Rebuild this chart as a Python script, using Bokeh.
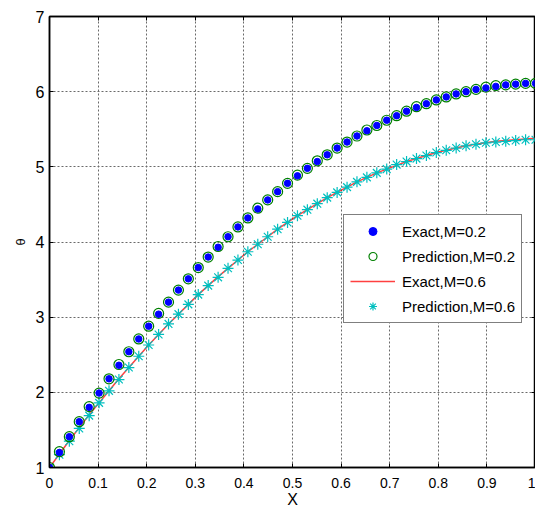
import numpy as np
from bokeh.plotting import figure
from bokeh.models import Range1d, FixedTicker, Legend, LegendItem, ColumnDataSource, LinearAxis
from bokeh.embed import file_html
from bokeh.resources import INLINE

# sample grid (50 equally spaced points on [0, 1])
X = np.linspace(0, 1, 50)

exact_02 = [1.00, 1.20, 1.41, 1.61, 1.80, 1.99, 2.18, 2.36, 2.54, 2.71,
            2.88, 3.04, 3.20, 3.36, 3.51, 3.66, 3.80, 3.93, 4.07, 4.20,
            4.32, 4.44, 4.56, 4.67, 4.78, 4.88, 4.98, 5.07, 5.16, 5.25,
            5.33, 5.41, 5.48, 5.55, 5.62, 5.68, 5.74, 5.79, 5.84, 5.89,
            5.93, 5.97, 6.00, 6.03, 6.05, 6.07, 6.09, 6.10, 6.11, 6.11]
pred_02 = [1.00, 1.21, 1.41, 1.61, 1.81, 1.99, 2.18, 2.37, 2.54, 2.71,
           2.88, 3.05, 3.20, 3.36, 3.51, 3.66, 3.80, 3.94, 4.07, 4.20,
           4.32, 4.45, 4.56, 4.67, 4.78, 4.89, 4.98, 5.08, 5.16, 5.25,
           5.33, 5.41, 5.49, 5.55, 5.62, 5.68, 5.74, 5.80, 5.84, 5.89,
           5.93, 5.97, 6.00, 6.03, 6.06, 6.08, 6.09, 6.10, 6.11, 6.11]
exact_06 = [1.00, 1.18, 1.36, 1.53, 1.70, 1.86, 2.02, 2.18, 2.33, 2.48,
            2.63, 2.77, 2.91, 3.04, 3.17, 3.30, 3.42, 3.54, 3.65, 3.76,
            3.87, 3.97, 4.07, 4.17, 4.26, 4.35, 4.43, 4.51, 4.59, 4.66,
            4.73, 4.80, 4.86, 4.92, 4.97, 5.02, 5.07, 5.11, 5.15, 5.19,
            5.22, 5.25, 5.28, 5.30, 5.32, 5.34, 5.35, 5.36, 5.37, 5.38]
pred_06 = [1.00, 1.17, 1.35, 1.52, 1.69, 1.86, 2.02, 2.17, 2.33, 2.48,
           2.63, 2.77, 2.91, 3.04, 3.17, 3.30, 3.42, 3.53, 3.65, 3.76,
           3.87, 3.97, 4.07, 4.17, 4.26, 4.35, 4.43, 4.51, 4.59, 4.66,
           4.73, 4.80, 4.86, 4.92, 4.97, 5.03, 5.07, 5.11, 5.15, 5.19,
           5.22, 5.25, 5.28, 5.30, 5.32, 5.33, 5.34, 5.35, 5.36, 5.36]

x_ticks = [0, 0.1, 0.2, 0.3, 0.4, 0.5, 0.6, 0.7, 0.8, 0.9, 1.0]
x_tick_labels = ["0", "0.1", "0.2", "0.3", "0.4", "0.5", "0.6", "0.7", "0.8", "0.9", "1"]
y_ticks = [1, 2, 3, 4, 5, 6, 7]
legend_labels = ["Exact,M=0.2", "Prediction,M=0.2", "Exact,M=0.6", "Prediction,M=0.6"]
x_title = "X"
y_title = "θ"

FONT = "Liberation Sans"

src = ColumnDataSource(dict(x=X, e02=exact_02, p02=pred_02, e06=exact_06, p06=pred_06))

p = figure(width=535, height=512, output_backend="svg", toolbar_location=None,
           x_range=Range1d(0, 1), y_range=Range1d(1, 7),
           min_border_left=49, min_border_right=0, min_border_top=16, min_border_bottom=45)
p.background_fill_color = "white"
p.border_fill_color = "white"
p.outline_line_color = "black"
p.outline_line_width = 1.5

for ax in p.xaxis:
    ax.ticker = FixedTicker(ticks=x_ticks)
    ax.major_label_overrides = {t: l for t, l in zip(x_ticks, x_tick_labels)}
    ax.axis_label = x_title
for ax in p.yaxis:
    ax.ticker = FixedTicker(ticks=y_ticks)
    ax.axis_label = y_title

for ax in list(p.xaxis) + list(p.yaxis):
    ax.major_tick_in = 4
    ax.major_tick_out = 0
    ax.minor_tick_line_color = None
    ax.axis_line_color = "black"
    ax.axis_line_width = 1.5
    ax.major_tick_line_color = "black"
    ax.major_label_text_font = FONT
    ax.major_label_text_color = "black"
    ax.axis_label_text_font = FONT
    ax.axis_label_text_font_style = "normal"
    ax.axis_label_text_color = "black"

p.xaxis.major_label_text_font_size = "14px"
p.xaxis.major_label_standoff = 10
p.xaxis.axis_label_text_font_size = "16px"
p.xaxis.axis_label_standoff = 0
p.yaxis.major_label_text_font_size = "16px"
p.yaxis.major_label_standoff = 5
p.yaxis.axis_label_text_font_size = "13px"
p.yaxis.axis_label_standoff = 5

# box ticks on the top and right sides (MATLAB "box on")
top = LinearAxis(ticker=FixedTicker(ticks=x_ticks), major_tick_in=4, major_tick_out=0,
                 minor_tick_line_color=None, major_label_text_font_size="0px",
                 major_label_standoff=0, axis_line_width=1.5)
p.add_layout(top, "above")
right = LinearAxis(ticker=FixedTicker(ticks=y_ticks), major_tick_in=4, major_tick_out=0,
                   minor_tick_line_color=None, major_label_text_font_size="0px",
                   major_label_standoff=0, axis_line_width=1.5)
p.add_layout(right, "right")

p.xgrid.ticker = FixedTicker(ticks=x_ticks)
p.ygrid.ticker = FixedTicker(ticks=y_ticks)
for g in (p.xgrid, p.ygrid):
    g.grid_line_color = "#6a6a6a"
    g.grid_line_dash = "2 2"
    g.grid_line_width = 1

r_line = p.line("x", "e06", source=src, line_color="red", line_width=1.5, line_alpha=0.75)
r_star = p.scatter("x", "p06", source=src, marker="asterisk", size=11,
                   line_color="#00BFBF", line_width=1.2)
r_circ = p.scatter("x", "p02", source=src, marker="circle", size=10, fill_color=None,
                   line_color="#008000", line_width=1.2)
r_dot = p.scatter("x", "e02", source=src, marker="circle", size=6.5, fill_color="#0000FF",
                  line_color="#0000FF")

legend = Legend(items=[
    LegendItem(label=legend_labels[0], renderers=[r_dot]),
    LegendItem(label=legend_labels[1], renderers=[r_circ]),
    LegendItem(label=legend_labels[2], renderers=[r_line]),
    LegendItem(label=legend_labels[3], renderers=[r_star]),
], location=(294, 144))
legend.label_text_font = FONT
legend.label_text_font_size = "15px"
legend.label_text_color = "black"
legend.glyph_width = 45
legend.glyph_height = 20
legend.label_height = 20
legend.spacing = 5
legend.label_standoff = 7
legend.padding = 6
legend.margin = 0
legend.border_line_color = "black"
legend.border_line_width = 1
legend.background_fill_color = "white"
legend.background_fill_alpha = 1
p.add_layout(legend, "center")

open("out.html", "w").write(file_html(p, INLINE))
